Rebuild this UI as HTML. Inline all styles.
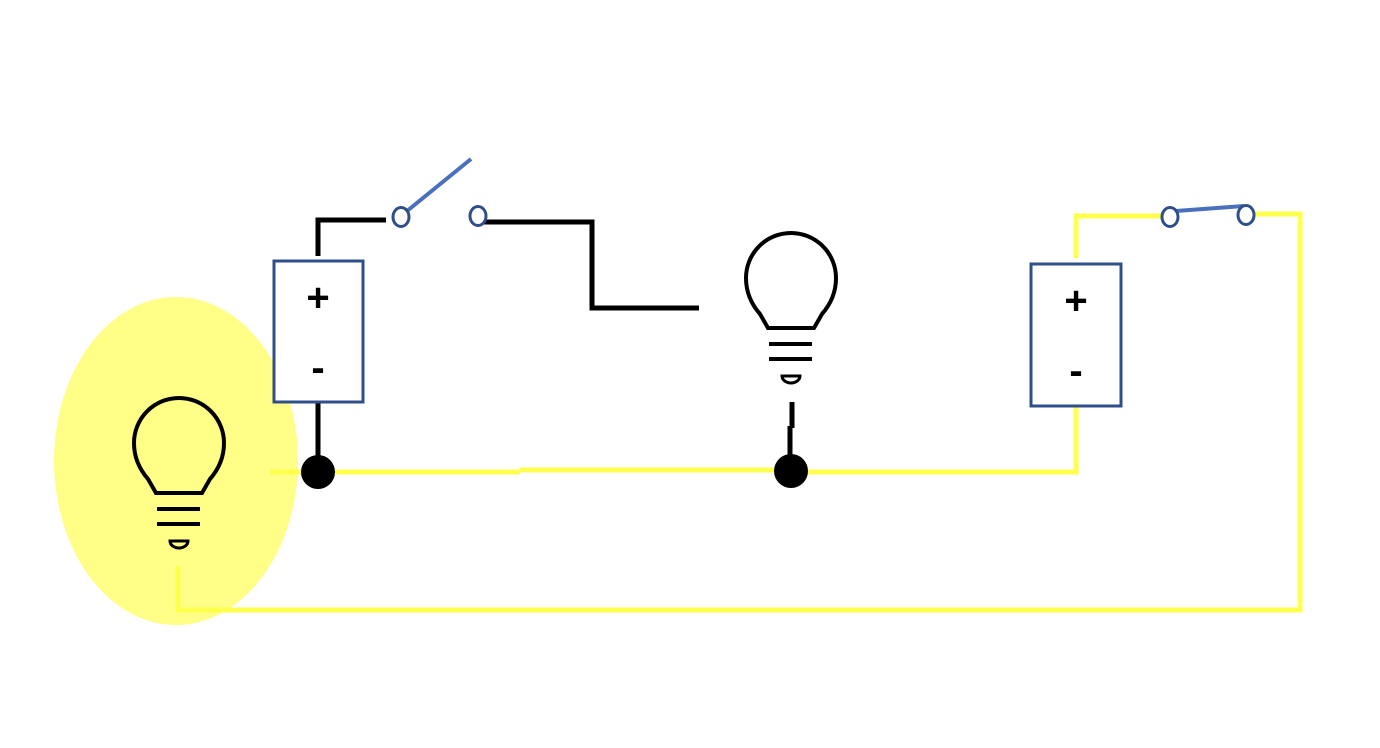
<!DOCTYPE html>
<html><head><style>body{margin:0;background:#fff}svg{display:block}</style></head><body>
<svg width="1380" height="748" viewBox="0 0 1380 748" xmlns="http://www.w3.org/2000/svg">
<ellipse cx="176" cy="461" rx="122" ry="164" fill="#ffff88"/>
<g fill="none" stroke="#ffff4d" stroke-width="5">
<polyline points="270,472 520,472"/>
<polyline points="520,470 780,470"/>
<polyline points="780,472 1076,472 1076,406"/>
<polyline points="1076,258 1076,216 1163,216"/>
<polyline points="1254,214 1300,214 1300,610 178,610 178,566"/>
</g>
<g fill="none" stroke="#000" stroke-width="5">
<polyline points="318,402 318,472"/>
<polyline points="318,256 318,220 386,220"/>
<polyline points="484,222 592,222 592,308 699,308"/>
<polyline points="792,402 792,428"/>
<polyline points="790,426 790,472"/>
</g>
<circle cx="318" cy="472" r="17"/>
<circle cx="791" cy="471" r="17"/>
<rect x="274" y="261" width="89" height="141" fill="#fff" stroke="#2f4f8a" stroke-width="3"/>
<rect x="1031" y="264" width="90" height="142" fill="#fff" stroke="#2f4f8a" stroke-width="3"/>
<g font-family="Liberation Sans, sans-serif" font-weight="bold" font-size="40" text-anchor="middle">
<text x="318" y="311">+</text><text x="318" y="381">-</text>
<text x="1076" y="314">+</text><text x="1076" y="384">-</text>
</g>
<g stroke="#4a6fbd" stroke-width="4" fill="none">
<line x1="407" y1="211" x2="471" y2="159"/>
<line x1="1176" y1="211" x2="1244" y2="206"/>
</g>
<g stroke="#2f4f8a" stroke-width="3" fill="#fff">
<ellipse cx="401" cy="217" rx="8" ry="9.5"/>
<ellipse cx="478" cy="216" rx="8" ry="9.5"/>
<ellipse cx="1170" cy="217" rx="8" ry="9.5"/>
<ellipse cx="1246" cy="215" rx="8" ry="9.5"/>
</g>
<g id="b" fill="none" stroke="#000" stroke-width="4">
<path d="M768,328 L760,314 Q746,298 746,278 A45,45 0 0 1 836,278 Q836,298 822,314 L814,328 Z"/>
<line x1="769" y1="344" x2="812" y2="344"/>
<line x1="769" y1="359" x2="812" y2="359"/>
<path d="M782,376 L800,376 A9,7 0 0 1 782,376 Z" stroke-width="3"/>
</g>
<use href="#b" transform="translate(-612,165)"/>
</svg>
</body></html>
